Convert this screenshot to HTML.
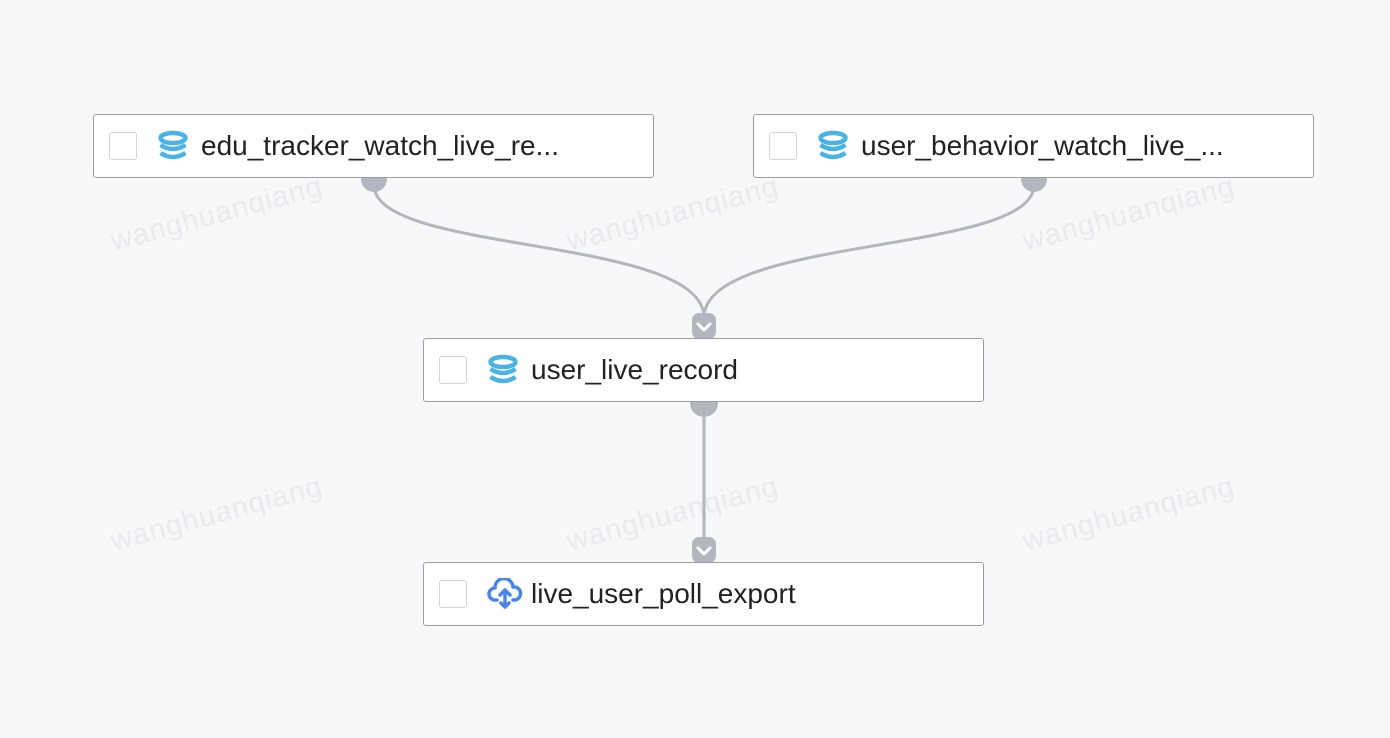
<!DOCTYPE html>
<html><head><style>
body{margin:0;width:1390px;height:738px;background:#f7f8fa;position:relative;overflow:hidden;font-family:"Liberation Sans",sans-serif}
.wm{position:absolute;color:#e9eaed;font-size:29px;transform:rotate(-15deg);letter-spacing:1px;white-space:nowrap}
.node{position:absolute;width:559px;height:62px;background:#fff;border:1px solid #9b9ca1;border-radius:3px;box-sizing:content-box}
.cb{position:absolute;left:15px;top:17px;width:28px;height:28px;border:1px solid #d4d4d8;border-radius:3px;box-sizing:border-box}
.ic{position:absolute;left:63px;top:15px}
.t{position:absolute;left:107px;top:15px;font-size:28px;color:#222;line-height:32px}
</style></head><body>
<div class="wm" style="left:108px;top:198px">wanghuanqiang</div>
<div class="wm" style="left:564px;top:198px">wanghuanqiang</div>
<div class="wm" style="left:1020px;top:198px">wanghuanqiang</div>
<div class="wm" style="left:108px;top:498px">wanghuanqiang</div>
<div class="wm" style="left:564px;top:498px">wanghuanqiang</div>
<div class="wm" style="left:1020px;top:498px">wanghuanqiang</div>
<svg style="position:absolute;left:0;top:0" width="1390" height="738">
<g fill="none" stroke="#b4b6bf" stroke-width="3">
<path d="M374,185 C374,255 704,235 704,318"/>
<path d="M1034,185 C1034,255 704,235 704,318"/>
<path d="M704,410 L704,545"/>
</g>
<g fill="#b4b6bf">
<circle cx="374" cy="179" r="13"/><circle cx="1034" cy="179" r="13"/><circle cx="704" cy="403" r="14"/>
<rect x="692" y="313" width="24" height="26" rx="7"/>
<rect x="692" y="537" width="24" height="26" rx="7"/>
</g>
<g fill="none" stroke="#fff" stroke-width="3" stroke-linecap="round" stroke-linejoin="round">
<path d="M698,324 L704,330 L710,324"/><path d="M698,548 L704,554 L710,548"/>
</g>
</svg>
<svg width="0" height="0" style="position:absolute"><defs>
<g id="db" fill="none" stroke="#4ab3e6" stroke-width="4.5"><ellipse cx="16" cy="8" rx="12.5" ry="5"/><path d="M3.5,15 Q16,23 28.5,15"/><path d="M3.5,23 Q16,31 28.5,23"/></g>
</defs></svg>
<div class="node" style="left:93px;top:114px"><div class="cb"></div><svg class="ic" width="32" height="32"><use href="#db"/></svg><div class="t">edu_tracker_watch_live_re...</div></div>
<div class="node" style="left:753px;top:114px"><div class="cb"></div><svg class="ic" width="32" height="32"><use href="#db"/></svg><div class="t">user_behavior_watch_live_...</div></div>
<div class="node" style="left:423px;top:338px"><div class="cb"></div><svg class="ic" width="32" height="32"><use href="#db"/></svg><div class="t">user_live_record</div></div>
<div class="node" style="left:423px;top:562px"><div class="cb"></div>
<svg class="ic" width="36" height="32"><g fill="none" stroke="#4a86e8" stroke-width="3.5" stroke-linecap="round" stroke-linejoin="round"><path d="M10,22 H8 A6,6 0 0 1 8,10 A9,9 0 0 1 26,9 A6.5,6.5 0 0 1 28,22 H26"/><path d="M18,13 V29 M13,17 L18,12 L23,17 M14,25 L18,29 L22,25"/></g></svg>
<div class="t">live_user_poll_export</div></div>
</body></html>
